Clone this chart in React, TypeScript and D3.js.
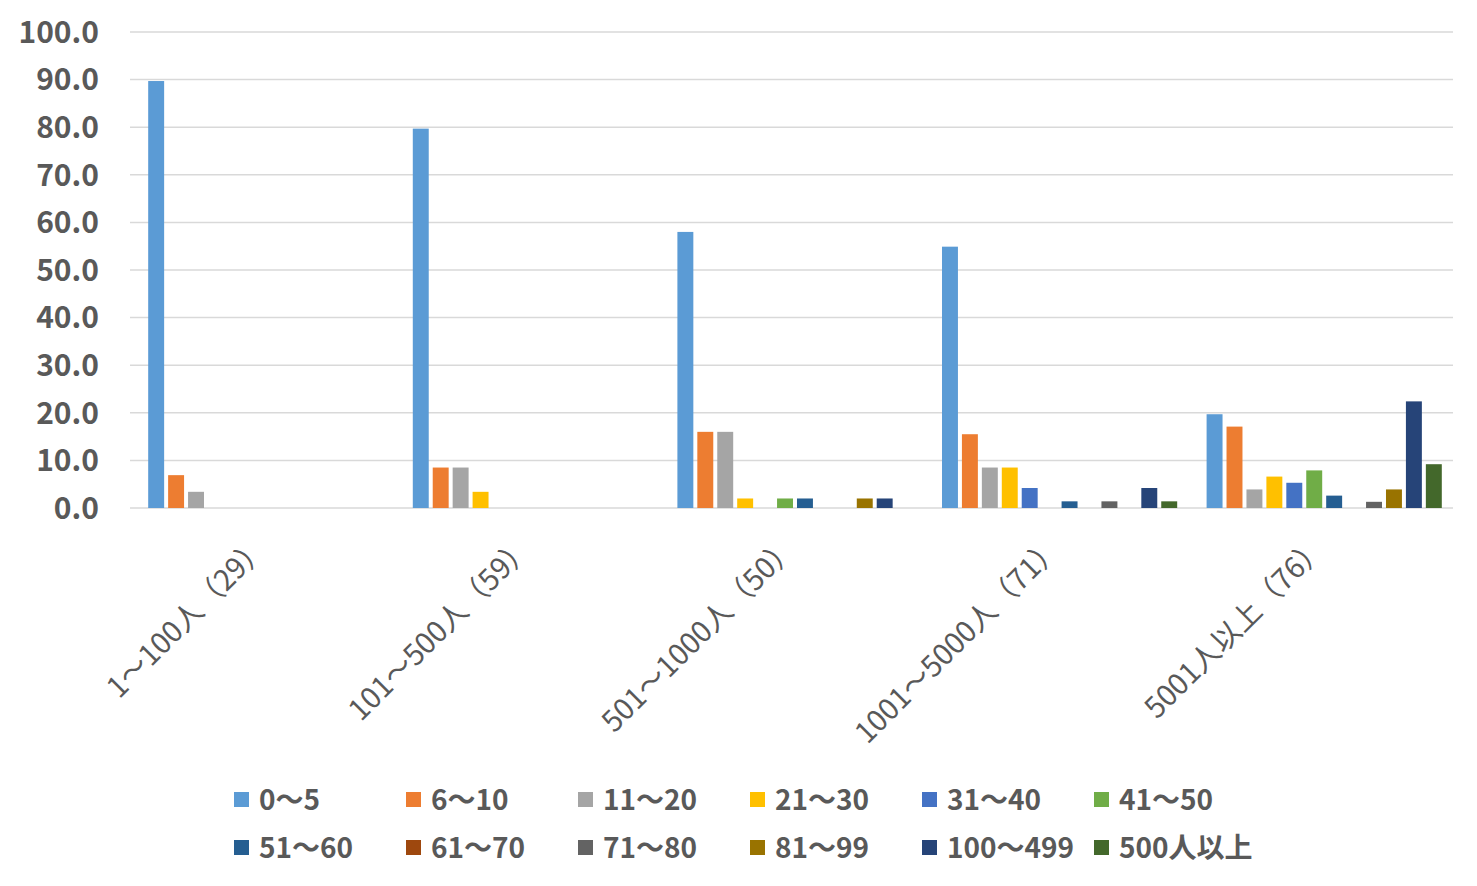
import React from "react";
import * as d3 from "d3";

const categories = ["1～100人（29）", "101～500人（59）", "501～1000人（50）", "1001～5000人（71）", "5001人以上（76）"];
const seriesNames = ["0～5", "6～10", "11～20", "21～30", "31～40", "41～50", "51～60", "61～70", "71～80", "81～99", "100～499", "500人以上"];
const seriesColors = ["#5B9BD5", "#ED7D31", "#A5A5A5", "#FFC000", "#4472C4", "#70AD47", "#255E91", "#9E480E", "#636363", "#997300", "#264478", "#43682B"];
// values per category (rows) for each series (columns), percent
const values1 = [89.7, 6.9, 3.4, 0, 0, 0, 0, 0, 0, 0, 0, 0];
const values2 = [79.7, 8.5, 8.5, 3.4, 0, 0, 0, 0, 0, 0, 0, 0];
const values3 = [58.0, 16.0, 16.0, 2.0, 0, 2.0, 2.0, 0, 0, 2.0, 2.0, 0];
const values4 = [54.9, 15.5, 8.5, 8.5, 4.2, 0, 1.4, 0, 1.4, 0, 4.2, 1.4];
const values5 = [19.7, 17.1, 3.9, 6.6, 5.3, 7.9, 2.6, 0, 1.3, 3.9, 22.4, 9.2];
const yTicks = [0, 10, 20, 30, 40, 50, 60, 70, 80, 90, 100];

const allValues = [values1, values2, values3, values4, values5];

const W = 1477;
const H = 886;
const FONT = "'Noto Sans CJK JP', 'Noto Sans', sans-serif";
const TEXT = "#595959";

export default function App() {
  const x0 = d3.scaleBand<string>().domain(categories).range([130, 1453]).padding(0);
  const y = d3.scaleLinear().domain([0, 100]).range([508, 32]);
  const groupW = 12 * 19.6;
  const x1 = d3.scaleBand<string>().domain(seriesNames).range([0, groupW]).paddingInner(0.2).paddingOuter(0);

  const legendX = (i: number) => 234 + (i % 6) * 172;
  const legendY = (i: number) => (i < 6 ? 800 : 848);

  return (
    <div style={{ position: "absolute", left: 0, top: 0 }}>
      <svg width={W} height={H} style={{ display: "block", background: "#fff" }}>
        {yTicks.map((t) => (
          <g key={t}>
            <line x1={130} x2={1453} y1={y(t)} y2={y(t)} stroke="#d9d9d9" strokeWidth={1.5} />
            <text x={99} y={y(t)} dy="0.36em" textAnchor="end" fontFamily={FONT} fontWeight={700} fontSize={30} fill={TEXT}>
              {d3.format(".1f")(t)}
            </text>
          </g>
        ))}
        {categories.map((c, ci) => {
          const gx = (x0(c) as number) + x0.bandwidth() / 2 - (groupW - x1.step() * 0.2) / 2 + 1.5;
          return (
            <g key={c} transform={`translate(${gx},0)`}>
              {seriesNames.map((s, si) => {
                const v = allValues[ci][si];
                if (!v) return null;
                return (
                  <rect key={s} x={x1(s) as number} width={x1.bandwidth()} y={y(v)} height={y(0) - y(v)} fill={seriesColors[si]} />
                );
              })}
            </g>
          );
        })}
        {categories.map((c) => {
          const cx = (x0(c) as number) + x0.bandwidth() / 2;
          return (
            <text key={c} transform={`translate(${cx},542) rotate(-45)`} textAnchor="end" dy="0.35em" fontFamily={FONT} fontSize={29} fill={TEXT}>
              {c}
            </text>
          );
        })}
        {seriesNames.map((s, i) => (
          <g key={s} transform={`translate(${legendX(i)},${legendY(i)})`}>
            <rect x={0} y={-8} width={15} height={15} fill={seriesColors[i]} />
            <text x={25} y={0} dy="0.35em" fontFamily={FONT} fontWeight={700} fontSize={28} fill={TEXT}>
              {s}
            </text>
          </g>
        ))}
      </svg>
    </div>
  );
}
